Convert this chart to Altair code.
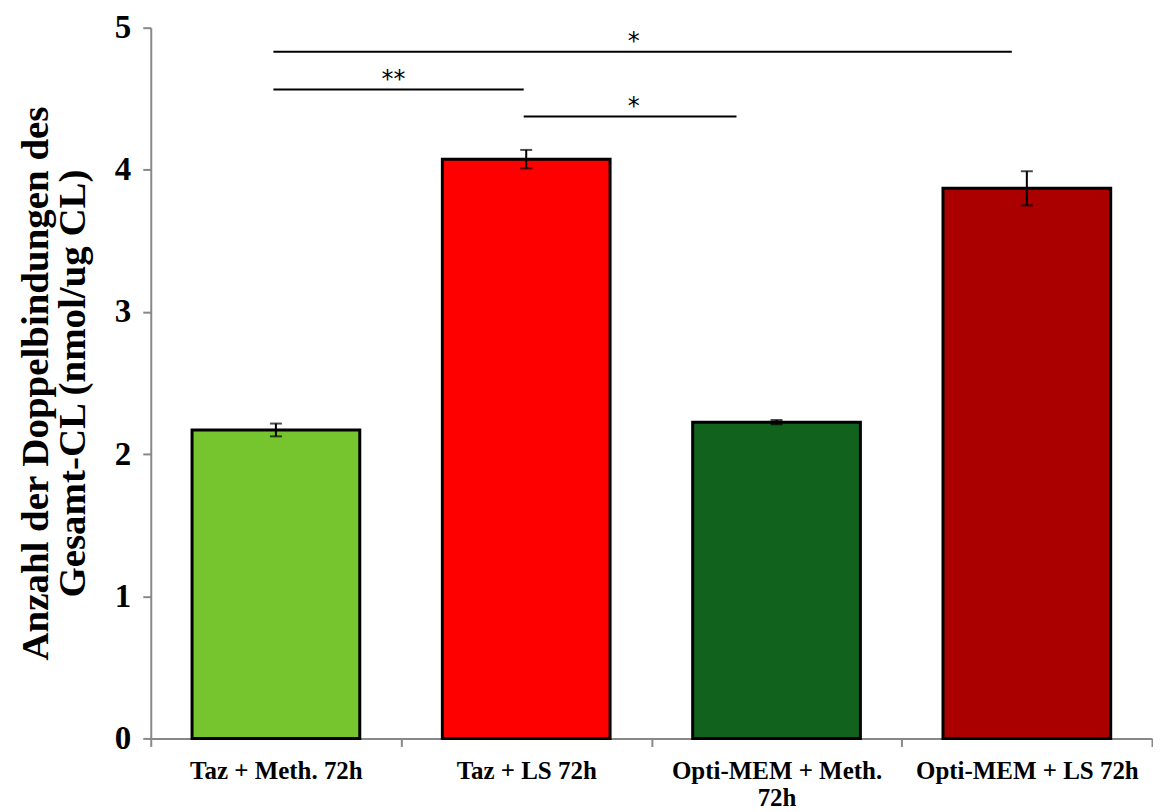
import altair as alt
import pandas as pd

categories = ["Taz + Meth. 72h", "Taz + LS 72h", "Opti-MEM + Meth. 72h", "Opti-MEM + LS 72h"]
values = [2.17, 4.075, 2.225, 3.87]
errors = [0.045, 0.065, 0.015, 0.12]
colors = ["#76c52e", "#ff0000", "#11621d", "#aa0000"]

sig_x1 = [0.49, 0.49, 1.49]
sig_x2 = [3.44, 1.49, 2.34]
sig_y = [4.83, 4.565, 4.375]
sig_star_x = [1.93, 0.97, 1.93]
sig_star_y = [4.9, 4.63, 4.44]
sig_label = ["*", "**", "*"]

FONT = "Liberation Serif"

df = pd.DataFrame({
    "cat": categories,
    "value": values,
    "err": errors,
    "color": colors,
})
df["pos"] = [i + 0.5 for i in range(len(categories))]
df["x1"] = df["pos"] - 0.335
df["x2"] = df["pos"] + 0.335
df["lo"] = df["value"] - df["err"]
df["hi"] = df["value"] + df["err"]

sig = pd.DataFrame({"x1": sig_x1, "x2": sig_x2, "y": sig_y,
                    "sx": sig_star_x, "sy": sig_star_y, "label": sig_label})

label_expr = (
    "datum.value == 0.5 ? 'Taz + Meth. 72h' : "
    "datum.value == 1.5 ? 'Taz + LS 72h' : "
    "datum.value == 2.5 ? ['Opti-MEM + Meth.', '72h'] : "
    "datum.value == 3.5 ? 'Opti-MEM + LS 72h' : ''"
)

xscale = alt.Scale(domain=[0, 4], nice=False, zero=False)
yscale = alt.Scale(domain=[0, 5], nice=False)

x_axis = alt.Axis(
    values=[0, 0.5, 1, 1.5, 2, 2.5, 3, 3.5, 4],
    labelExpr=label_expr,
    labelOverlap=False, labelLimit=400,
    labelFont=FONT, labelFontSize=25, labelFontWeight="bold", labelColor="black",
    labelPadding=12, labelLineHeight=27,
    tickOpacity={"condition": {"test": "datum.value % 1 == 0", "value": 1}, "value": 0},
    tickColor="#888888", tickWidth=2, tickSize=8,
    domainColor="#888888", domainWidth=2,
    grid=False, title=None,
)

y_axis = alt.Axis(
    values=[0, 1, 2, 3, 4, 5],
    format="d",
    labelFont=FONT, labelFontSize=33, labelFontWeight="bold", labelColor="black",
    labelPadding=12,
    tickColor="#888888", tickWidth=2, tickSize=8,
    domainColor="#888888", domainWidth=2,
    grid=False,
    title=["Anzahl der Doppelbindungen des", "Gesamt-CL (nmol/ug CL)"],
    titleFont=FONT, titleFontSize=39, titleFontWeight="bold", titleColor="black",
    titlePadding=22, titleLineHeight=37,
)

base = alt.Chart(df)

bars = base.mark_rect(stroke="black", strokeWidth=3).encode(
    x=alt.X("x1:Q", scale=xscale, axis=x_axis),
    x2="x2:Q",
    y=alt.Y("value:Q", scale=yscale, axis=y_axis),
    y2=alt.datum(0),
    color=alt.Color("cat:N", scale=alt.Scale(domain=categories, range=colors), legend=None),
)

err_rule = base.mark_rule(color="black", strokeWidth=2).encode(
    x="pos:Q", y="lo:Q", y2="hi:Q",
)
err_lo = base.mark_tick(color="black", orient="horizontal", size=12, thickness=2).encode(
    x="pos:Q", y="lo:Q",
)
err_hi = base.mark_tick(color="black", orient="horizontal", size=12, thickness=2).encode(
    x="pos:Q", y="hi:Q",
)

sig_base = alt.Chart(sig)
sig_lines = sig_base.mark_rule(color="black", strokeWidth=2).encode(
    x="x1:Q", x2="x2:Q", y="y:Q",
)
sig_text = sig_base.mark_text(font="DejaVu Sans", fontSize=24, color="black", baseline="middle").encode(
    x="sx:Q", y="sy:Q", text="label:N",
)

chart = alt.layer(bars, err_rule, err_lo, err_hi, sig_lines, sig_text).properties(
    width=1003, height=712,
    padding={"left": 8, "top": 3, "right": 0, "bottom": 0},
).configure_view(stroke=None)

chart.save("out.html", embed_options={"renderer": "svg", "actions": False})
